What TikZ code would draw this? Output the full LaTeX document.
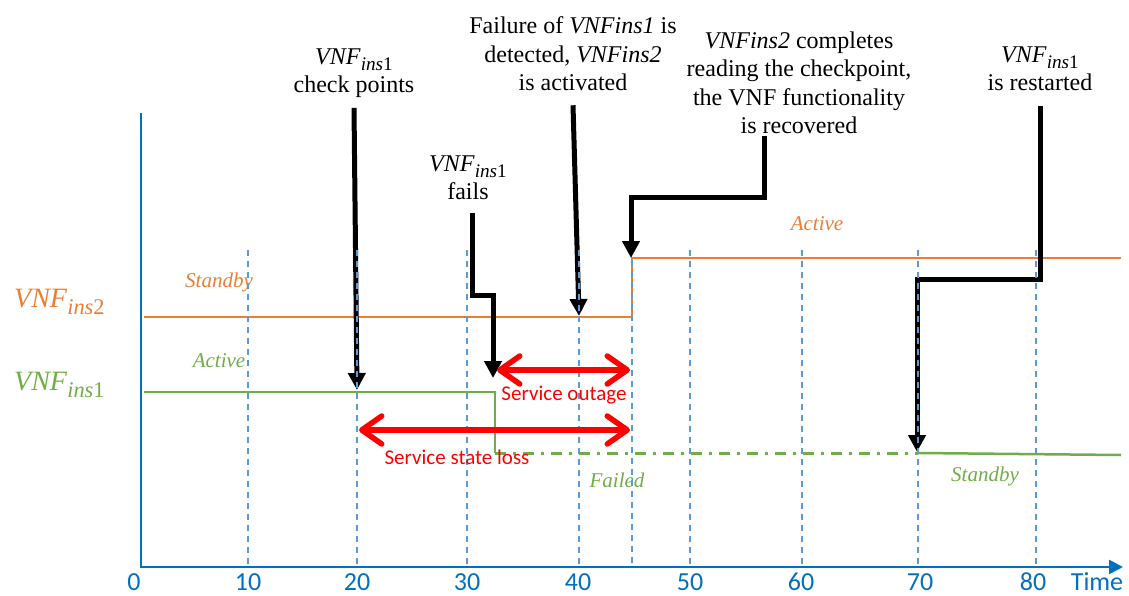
\documentclass[tikz,border=0pt]{standalone}
\usepackage{fontspec}
\usepackage{graphicx}
\setmainfont{Liberation Serif}
\newfontfamily\calibrifont{Carlito}
\usetikzlibrary{arrows.meta}

\definecolor{axisblue}{HTML}{0070C0}
\definecolor{gridblue}{HTML}{5B9BD5}
\definecolor{vorange}{HTML}{ED7D31}
\definecolor{vgreen}{HTML}{70AD47}

% instance name: italic VNF with a lowered, reduced "ins<n>"
\newcommand{\vnfsub}[1]{\textit{VNF}\raisebox{-0.25em}{\scalebox{0.8}{\textit{ins}#1}}}

\begin{document}
\begin{tikzpicture}[x=1pt,y=-1pt,
  axisline/.style={draw=axisblue,line width=2.5pt},
  gridline/.style={draw=gridblue,line width=1.5pt,dash pattern=on 6pt off 5pt},
  ins2line/.style={draw=vorange,line width=2.5pt},
  ins1line/.style={draw=vgreen,line width=2.5pt},
  eventarrow/.style={draw=black,line width=5pt,-{Triangle[width=17pt,length=17pt]}},
  spanarrow/.style={draw=red,line width=5.5pt,line cap=round,
    {Straight Barb[length=20pt,width=28pt,line cap=round,line join=round]}-{Straight Barb[length=20pt,width=28pt,line cap=round,line join=round]}},
  note/.style={font=\fontsize{24}{28.5}\selectfont,align=center,inner sep=0pt},
  statelabel/.style={font=\fontsize{21}{24}\selectfont\itshape,inner sep=0pt},
  spanlabel/.style={font=\calibrifont\fontsize{21}{24}\selectfont,text=red,inner sep=0pt},
  ticklabel/.style={font=\calibrifont\fontsize{26}{30}\selectfont,text=axisblue,inner sep=0pt},
  rowlabel/.style={font=\fontsize{28}{30}\selectfont,inner sep=0pt,anchor=base west},
]
\useasboundingbox (0,0) rectangle (1129,596);

% axes
\draw[axisline] (141,113) -- (141,567);
\draw[axisline,-{Triangle[length=14pt,width=14pt]}] (140,567) -- (1123,567);

% tick labels
\node[ticklabel] (t0)  at (134,582) {0};
\node[ticklabel] (t10) at (248,582) {10};
\node[ticklabel] (t20) at (357,582) {20};
\node[ticklabel] (t30) at (467,582) {30};
\node[ticklabel] (t40) at (578,582) {40};
\node[ticklabel] (t50) at (690,582) {50};
\node[ticklabel] (t60) at (801,582) {60};
\node[ticklabel] (t70) at (920,582) {70};
\node[ticklabel] (t80) at (1033,582) {80};
\node[ticklabel] (tt)  at (1097,582) {Time};

% row labels
\node[rowlabel,text=vorange] (r2) at (14,307) {\vnfsub{2}};
\node[rowlabel,text=vgreen]  (r1) at (14,390) {\vnfsub{1}};

% instance 2: standby, then active from t=45
\draw[ins2line] (144,317) -- (632,317) -- (632,258) -- (1121,258);
% instance 1: active, fails, then standby after restart
\draw[ins1line] (144,392) -- (495,392) -- (495,453);
\draw[ins1line,line width=3pt,dash pattern=on 11pt off 7pt on 3pt off 7pt] (495,453) -- (918,453);
\draw[ins1line] (918,453) -- (1121,455);

% state labels
\node[statelabel,text=vorange] (s2a) at (219,282) {Standby};
\node[statelabel,text=vorange] (s2b) at (817,224) {Active};
\node[statelabel,text=vgreen]  (s1a) at (219,361) {Active};
\node[statelabel,text=vgreen]  (s1b) at (617,480) {Failed};
\node[statelabel,text=vgreen]  (s1c) at (985,476) {Standby};

% event notes
\node[note] (cp)  at (354,73)  {\vnfsub{1}\\check points};
\node[note] (fl)  at (468,178) {\vnfsub{1}\\fails};
\node[note] (det) at (573,54)  {Failure of \textit{VNFins1} is\\detected, \textit{VNFins2}\\is activated};
\node[note] (rec) at (799,83)  {\textit{VNFins2} completes\\reading the checkpoint,\\the VNF functionality\\is recovered};
\node[note] (rst) at (1040,69) {\vnfsub{1}\\is restarted};

% event pointers
\coordinate (cpTip)   at (357,390);
\coordinate (flBend)  at (493,295);
\coordinate (flTip)   at (493,378);
\coordinate (detTip)  at (579,316);
\coordinate (recBend) at (631,198);
\coordinate (recTip)  at (631,258);
\coordinate (rstBend) at (917,279);
\coordinate (rstTip)  at (917,452);

\draw[eventarrow] ([yshift=-10pt]cp.south) -- (cpTip);
\draw[eventarrow] ([xshift=4pt,yshift=-13pt]fl.south) |- (flBend) -- (flTip);
\draw[eventarrow] ([yshift=-14pt]det.south) -- (detTip);
\draw[eventarrow] ([xshift=-35pt,yshift=-2pt]rec.south) |- (recBend) -- (recTip);
\draw[eventarrow] ([yshift=-15pt]rst.south) |- (rstBend) -- (rstTip);

% time grid
\foreach \gx in {248,357,467,579,690,802,918,1036}
  \draw[gridline] (\gx,250) -- (\gx,566);
\draw[gridline] (632,260) -- (632,566);

% outage and state-loss spans
\coordinate (outL)   at (497,370);
\coordinate (outR)   at (630,370);
\coordinate (stateL) at (359,430);
\coordinate (stateR) at (630,430);
\draw[spanarrow] (outL) -- (outR);
\draw[spanarrow] (stateL) -- (stateR);
\node[spanlabel] (outlab)   at (564,395) {Service outage};
\node[spanlabel] (statelab) at (457,457) {Service state loss};
\end{tikzpicture}
\end{document}
